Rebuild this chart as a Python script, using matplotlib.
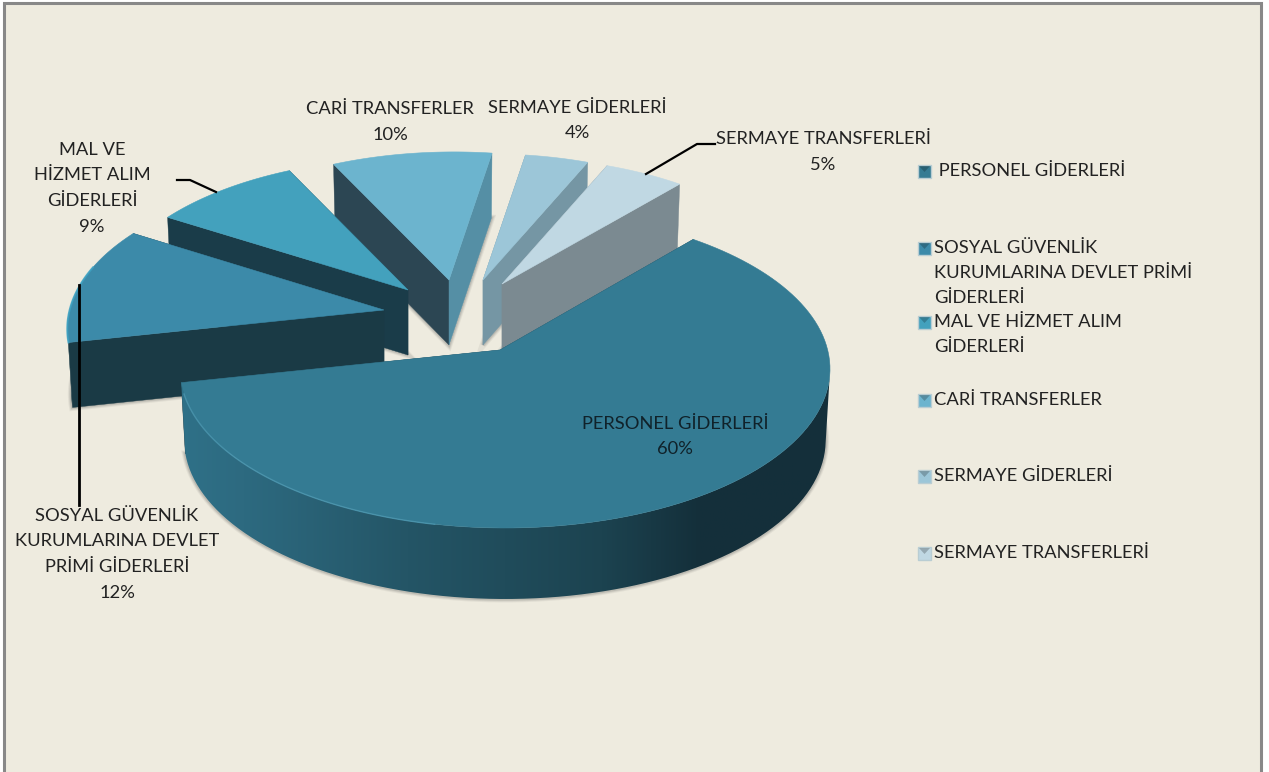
import numpy as np
import matplotlib
matplotlib.use('Agg')
import matplotlib.pyplot as plt
from matplotlib.colors import LinearSegmentedColormap
from matplotlib.patches import Polygon, Rectangle

plt.rcParams['font.family'] = ['Lato', 'DejaVu Sans']

# donnees
categories = ['PERSONEL GİDERLERİ', 'SOSYAL GÜVENLİK KURUMLARINA DEVLET PRİMİ GİDERLERİ',
              'MAL VE HİZMET ALIM GİDERLERİ', 'CARİ TRANSFERLER',
              'SERMAYE GİDERLERİ', 'SERMAYE TRANSFERLERİ']
values = [60, 12, 9, 10, 4, 5]

label_lines = [['PERSONEL GİDERLERİ'],
               ['SOSYAL GÜVENLİK', 'KURUMLARINA DEVLET', 'PRİMİ GİDERLERİ'],
               ['MAL VE', 'HİZMET ALIM', 'GİDERLERİ'],
               ['CARİ TRANSFERLER'],
               ['SERMAYE GİDERLERİ'],
               ['SERMAYE TRANSFERLERİ']]
legend_lines = [[' PERSONEL GİDERLERİ'],
                ['SOSYAL GÜVENLİK', 'KURUMLARINA DEVLET PRİMİ', 'GİDERLERİ'],
                ['MAL VE HİZMET ALIM', 'GİDERLERİ'],
                ['CARİ TRANSFERLER'],
                ['SERMAYE GİDERLERİ'],
                ['SERMAYE TRANSFERLERİ']]

# style : couleurs et position de chaque part eclatee
top_colors = ['#347b93', '#3c8aa9', '#43a1bd', '#6cb4ce', '#9cc6d8', '#c0d8e3']
wall_left = ['#1a3a47', '#1a3a45', '#1a3c49', '#2c4653', '#7596a4', '#7b8a91']
wall_right = ['#1a3a47', '#1a3a45', '#1a3c49', '#558fa5', '#7596a4', '#7b8a91']
apex = [(500, 350), (384, 310), (408, 290), (449, 280), (483, 280), (502, 284)]
depth = [71, 65, 65, 65, 65, 66]
radius_scale = [1.0, 0.99, 0.95, 0.925, 0.913, 0.917]   # les parts du fond sont plus courtes
label_xy = [(675, 424), (117, 516), (92, 150), (390, 109), (577, 108), (823, 139)]
legend_y = [171, 248, 322, 400, 476, 553]
draw_order = [3, 4, 5, 2, 1, 0]

RX, RY = 325, 159
CENTER_SHIFT = (5, 19)   # la perspective decale le centre de l'ellipse
START = 49.1
WARP = 8.4               # l'avant du camembert parait plus grand
BOTTOM_X = 0.987         # le bas des parois est un peu plus etroit
LINE_H = 25.5
FONT = 13.2
TEXT = '#222222'

fig = plt.figure(figsize=(12.69, 7.72), dpi=100, facecolor='white')
ax = fig.add_axes([0, 0, 1, 1])
ax.axis('off')

ax.add_patch(Rectangle((3.5, 3), 1257.5, 785, facecolor='#eeebdf', edgecolor='#888888',
                       linewidth=2.2, zorder=0))


def warp(t):
    return np.radians(t + WARP * np.cos(np.radians(t)))


def arc_points(i, t0, t1):
    # arc exterieur de la part, en pixels
    phi = warp(np.linspace(t0, t1, 120))
    cx = apex[i][0] + CENTER_SHIFT[0]
    cy = apex[i][1] + CENTER_SHIFT[1]
    r = radius_scale[i]
    return np.column_stack([cx + r * RX * np.cos(phi), cy - r * RY * np.sin(phi)])


def draw_slice(i, t0, t1, z):
    arc = arc_points(i, t0, t1)
    a = np.array(apex[i], dtype=float)

    def lower(p):
        p = np.atleast_2d(p).copy()
        p[:, 0] = a[0] + (p[:, 0] - a[0]) * BOTTOM_X
        p[:, 1] = p[:, 1] + depth[i]
        return p

    face = np.vstack([a, arc])
    # ombre floue sous la part
    for lw, alpha in [(5, 0.07), (3.6, 0.10), (2.2, 0.14)]:
        ax.add_patch(Polygon(lower(face), closed=True, facecolor='none', edgecolor='#444444',
                             linewidth=lw, alpha=alpha, zorder=z))
    # parois radiales
    for end, col in [(arc[0], wall_left[i]), (arc[-1], wall_right[i])]:
        pts = np.vstack([a, end, lower(end), lower(a)])
        ax.add_patch(Polygon(pts, closed=True, facecolor=col, edgecolor=col, linewidth=0.3, zorder=z + 0.1))
    # paroi exterieure : seulement ce qui regarde vers l'avant
    front = arc[arc[:, 1] >= a[1] + CENTER_SHIFT[1] - 1]
    if len(front) > 1:
        wall = np.vstack([front, lower(front)[::-1]])
        if i == 0:
            stops = [(0, '#2f7188'), (0.1, '#2d6a80'), (0.35, '#245566'), (0.65, '#1c4350'),
                     (0.8, '#142f3a'), (1, '#14303b')]
            cmap = LinearSegmentedColormap.from_list('wall', stops)
            im = ax.imshow(np.linspace(0, 1, 256).reshape(1, -1), cmap=cmap, aspect='auto',
                           extent=(178, 832, 610, 340), zorder=z + 0.2)
            clip = Polygon(wall, closed=True, transform=ax.transData, facecolor='none', edgecolor='none')
            ax.add_patch(clip)
            im.set_clip_path(clip)
        else:
            ax.add_patch(Polygon(wall, closed=True, facecolor=wall_left[i], edgecolor='none', zorder=z + 0.2))
    ax.add_patch(Polygon(face, closed=True, facecolor=top_colors[i], edgecolor=top_colors[i],
                         linewidth=0.4, zorder=z + 0.3))


starts = START - 3.6 * np.concatenate([[0], np.cumsum(values)[:-1]])
ends = starts - 3.6 * np.array(values)

for z, i in enumerate(draw_order):
    draw_slice(i, starts[i], ends[i], 1 + z)

# liseres clairs sur le bord des parts avant
rim = arc_points(0, ends[0] + 4, starts[0] - 150)
ax.plot(rim[:, 0], rim[:, 1], color='#4c97b0', lw=1, alpha=0.8, zorder=7.5)
rim = arc_points(1, starts[1], starts[1] - 28)
ax.plot(rim[:, 0], rim[:, 1], color='#3ca3c4', lw=1.4, alpha=0.8, zorder=6.5)

# traits de rappel
ax.plot([646, 697, 715], [174, 144, 144], color='black', lw=1.6, zorder=9)
ax.plot([177, 190, 216], [180, 180, 192], color='black', lw=1.6, zorder=9)
ax.plot([79, 79], [285, 505], color='black', lw=2, zorder=9)

# etiquettes
for i in range(len(values)):
    x, y = label_xy[i]
    lines = label_lines[i] + [f'{values[i]}%']
    for k, line in enumerate(lines):
        ax.text(x, y + k * LINE_H, line, ha='center', va='center', fontsize=FONT,
                color='#10222a' if i == 0 else TEXT, zorder=10)

# legende
for i in range(len(values)):
    y = legend_y[i]
    ax.add_patch(Rectangle((918, y - 6), 13, 13, facecolor=top_colors[i], edgecolor='#b9cdd3',
                           linewidth=1, zorder=8))
    ax.add_patch(Polygon([(919, y - 5), (930, y - 5), (924.5, y + 1)], closed=True,
                         facecolor='black', alpha=0.22, edgecolor='none', zorder=8.5))
    for k, line in enumerate(legend_lines[i]):
        ax.text(934, y + k * 25, line, ha='left', va='center', fontsize=FONT, color=TEXT, zorder=10)

ax.set_xlim(0, 1269)
ax.set_ylim(772, 0)
fig.savefig('out.png', dpi=100, facecolor='white')
